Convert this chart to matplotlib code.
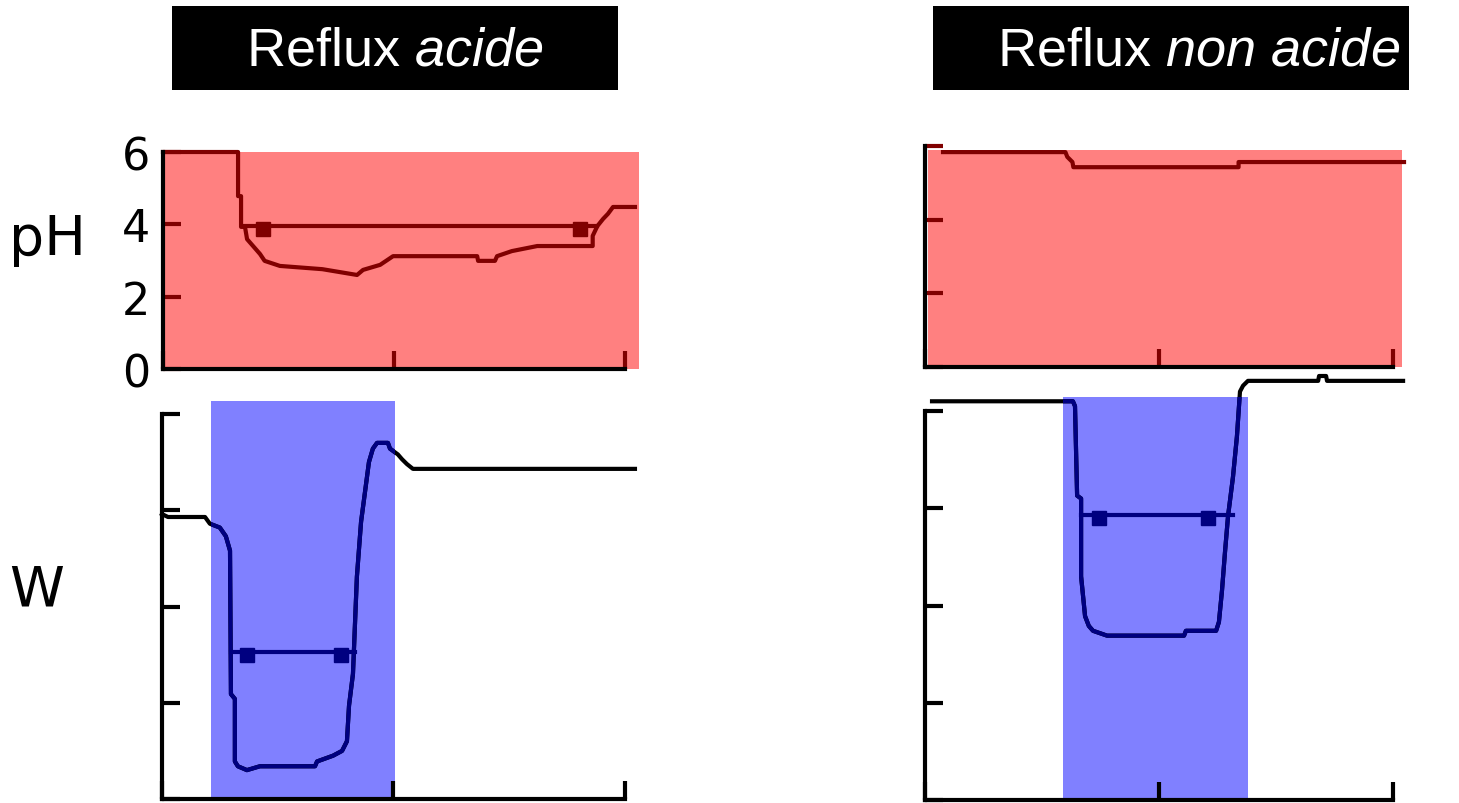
import matplotlib
matplotlib.use("Agg")
import matplotlib.pyplot as plt
from matplotlib.patches import Rectangle

plt.rcParams['mathtext.fontset'] = 'custom'
plt.rcParams['mathtext.rm'] = 'Liberation Sans'
plt.rcParams['mathtext.it'] = 'Liberation Sans:italic'

# ---- data (time in arbitrary units) ----
# acid reflux, pH
acid_ph_t = [0, 0.325, 0.325, 0.338, 0.338, 0.355, 0.364, 0.39, 0.42, 0.44, 0.506,
             0.69, 0.84, 0.866, 0.94, 0.996, 1.36, 1.364, 1.437, 1.446, 1.51, 1.62,
             1.86, 1.86, 1.88, 1.905, 1.926, 1.948, 2.043]
acid_ph = [6.0, 6.0, 4.78, 4.78, 3.93, 3.93, 3.59, 3.40, 3.18, 2.99, 2.85,
           2.76, 2.60, 2.74, 2.88, 3.12, 3.12, 2.99, 2.99, 3.12, 3.26, 3.40,
           3.40, 3.68, 3.95, 4.15, 4.29, 4.48, 4.48]
acid_ph_bar = [0.355, 1.88]
acid_ph_bar_level = 3.95
acid_ph_marks = [0.433, 1.805]

# acid reflux, impedance
acid_w_t = [0, 0.026, 0.186, 0.207, 0.25, 0.276, 0.294, 0.298, 0.315, 0.315, 0.328,
            0.367, 0.423, 0.661, 0.67, 0.739, 0.778, 0.799, 0.808, 0.825, 0.842,
            0.86, 0.877, 0.894, 0.911, 0.929, 0.976, 0.985, 1.019, 1.037, 1.058,
            1.084, 2.043]
acid_w = [2.96, 2.93, 2.93, 2.86, 2.82, 2.73, 2.58, 1.09, 1.04, 0.39, 0.34,
          0.30, 0.34, 0.34, 0.39, 0.45, 0.50, 0.60, 0.97, 1.30, 2.31,
          2.88, 3.19, 3.50, 3.64, 3.70, 3.70, 3.64, 3.58, 3.53, 3.48,
          3.43, 3.43]
acid_w_bar = [0.298, 0.834]
acid_w_bar_level = 1.53
acid_w_marks = [0.367, 0.773]
acid_bolus = [0.212, 1.006]

# non acid reflux, pH
non_ph_t = [0.077, 0.60, 0.608, 0.63, 0.634, 1.34, 1.34, 2.047]
non_ph = [5.84, 5.84, 5.71, 5.57, 5.43, 5.43, 5.57, 5.57]

# non acid reflux, impedance
non_w_t = [0.03, 0.632, 0.641, 0.65, 0.667, 0.667, 0.684, 0.70, 0.718, 0.778,
           1.107, 1.115, 1.244, 1.256, 1.269, 1.282, 1.295, 1.316, 1.333, 1.346,
           1.359, 1.38, 1.68, 1.684, 1.714, 1.718, 2.043]
non_w = [4.10, 4.10, 4.05, 3.13, 3.10, 2.30, 1.89, 1.79, 1.74, 1.69,
         1.69, 1.74, 1.74, 1.83, 2.15, 2.55, 2.92, 3.32, 3.74, 4.20,
         4.26, 4.31, 4.31, 4.36, 4.36, 4.31, 4.31]
non_w_bar = [0.667, 1.316]
non_w_bar_level = 2.93
non_w_marks = [0.744, 1.209]
non_bolus = [0.59, 1.38]

red_bg = '#ff8080'
dark_red = '#800000'
blue_bg = '#8080ff'
navy = '#000080'
LW = 3


def style(ax, yticks, top, tick_color):
    for s in ['top', 'right']:
        ax.spines[s].set_visible(False)
    for s in ['left', 'bottom']:
        ax.spines[s].set_linewidth(LW)
    ax.spines['bottom'].set_bounds(0, 2)
    ax.spines['left'].set_bounds(0, top)
    ax.set_xlim(0, 2.06)
    ax.set_xticks([0, 1, 2])
    ax.set_xticklabels([])
    ax.set_yticks(yticks)
    ax.tick_params(direction='in', length=13, width=LW, color=tick_color, pad=9,
                   labelsize=32)
    ax.patch.set_visible(False)


def ph_panel(rect, t, ph, red_x, red_top, bar=None, level=None, marks=None, labels=True):
    ax = fig.add_axes(rect)
    ax.fill_between(red_x, 0, red_top, color=red_bg, lw=0, zorder=0)
    ax.plot(t, ph, color=dark_red, lw=LW, clip_on=False)
    if bar is not None:
        ax.plot(bar, [level, level], color=dark_red, lw=LW)
        ax.plot(marks, [level - 0.07] * len(marks), 's', color=dark_red, ms=9.5)
    ax.set_ylim(0, 6)
    style(ax, [0, 2, 4, 6], 6, dark_red)
    if labels:
        ax.set_yticklabels(['0', '2', '4', '6'])
    else:
        ax.set_yticklabels([])
    return ax


def w_panel(rect, t, w, bolus, bolus_top, bar, level, marks):
    ax = fig.add_axes(rect)
    span = Rectangle((bolus[0], 0), bolus[1] - bolus[0], bolus_top,
                     facecolor=blue_bg, edgecolor='none', zorder=0)
    ax.add_patch(span)
    ax.plot(t, w, color='black', lw=LW, clip_on=False)
    inner, = ax.plot(t, w, color=navy, lw=LW)
    inner.set_clip_path(span)
    ax.plot(bar, [level, level], color=navy, lw=LW)
    ax.plot(marks, [level - 0.03] * len(marks), 's', color=navy, ms=9.5)
    ax.set_ylim(0, 4.5)
    style(ax, [0, 1, 2, 3, 4], 4, 'black')
    ax.set_yticklabels([])
    return ax


fig = plt.figure(figsize=(14.59, 8.04), dpi=100)

ph_panel([0.1117, 0.5398, 0.3262, 0.2699], acid_ph_t, acid_ph, [0, 2.06], 6,
         acid_ph_bar, acid_ph_bar_level, acid_ph_marks, labels=True)
w_panel([0.1110, 0.00498, 0.3269, 0.5387], acid_w_t, acid_w, acid_bolus, 4.13,
        acid_w_bar, acid_w_bar_level, acid_w_marks)
ph_panel([0.634, 0.5423, 0.3304, 0.2746], non_ph_t, non_ph, [0.013, 2.04], 5.9,
         labels=False)
w_panel([0.634, 0.00373, 0.3304, 0.5443], non_w_t, non_w, non_bolus, 4.14,
        non_w_bar, non_w_bar_level, non_w_marks)

# title boxes
for x0, x1 in [(172, 618), (933, 1409)]:
    fig.patches.append(Rectangle((x0 / 1459, 1 - 91 / 804), (x1 - x0) / 1459, 84 / 804,
                                 transform=fig.transFigure, facecolor='black',
                                 edgecolor='none', zorder=0))
fig.text(395 / 1459, 1 - 51 / 804, r'Reflux $\mathit{acide}$', color='white',
         fontsize=39, family='Liberation Sans', ha='center', va='center')
fig.text(1199 / 1459, 1 - 51 / 804, r'Reflux $\mathit{non\ acide}$', color='white',
         fontsize=39, family='Liberation Sans', ha='center', va='center')

fig.text(48 / 1459, 1 - 240 / 804, 'pH', fontsize=40, ha='center', va='center')
fig.text(37 / 1459, 1 - 591 / 804, 'W', fontsize=40, ha='center', va='center')

fig.savefig('out.png', dpi=100)
plt.close(fig)
